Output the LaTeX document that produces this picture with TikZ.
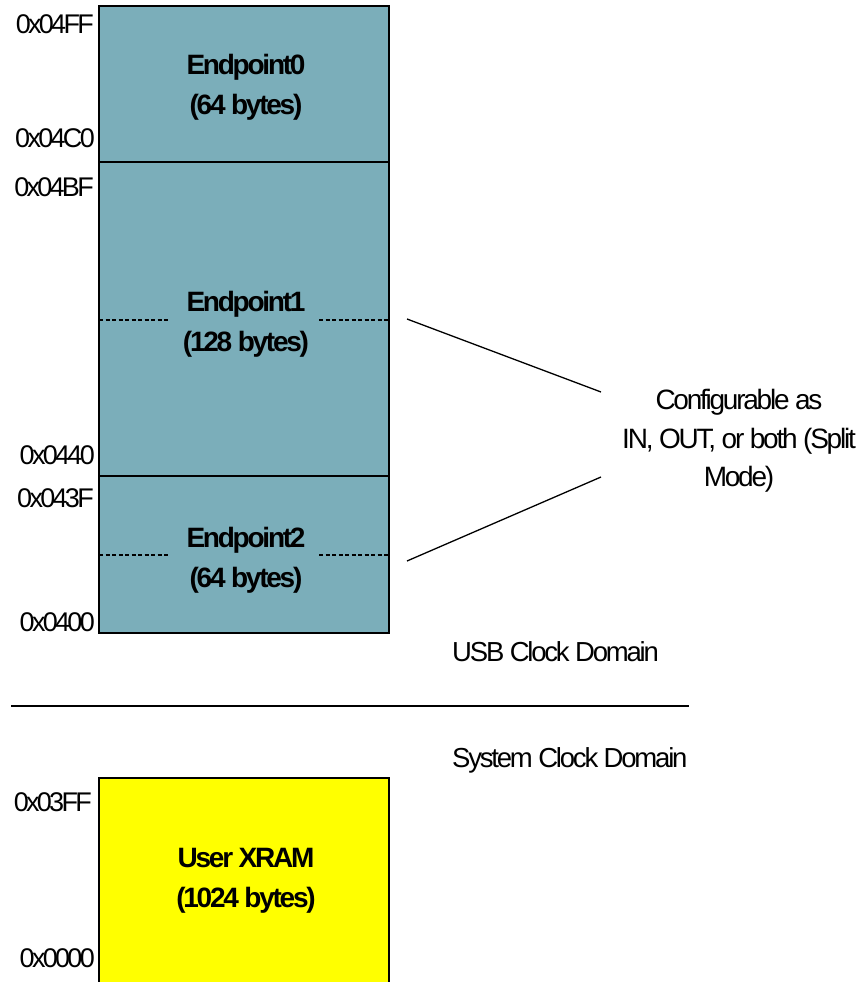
\documentclass[tikz,border=0pt]{standalone}
\usepackage{fontspec}
\setmainfont{Liberation Sans}[LetterSpace=-8]
\newfontfamily\addrfont{Liberation Sans}[LetterSpace=-10]
\definecolor{epblue}{RGB}{123,174,186}
\definecolor{xyellow}{RGB}{255,255,0}
\begin{document}
\begin{tikzpicture}[x=1pt,y=-1pt,
  membox/.style={draw=black, line width=1.2pt},
  addr/.style={anchor=east, inner sep=0pt, font=\addrfont\fontsize{27}{30}\selectfont},
  title/.style={align=center, inner sep=0pt, font=\fontsize{28}{40}\selectfont\bfseries},
  note/.style={inner sep=0pt, font=\fontsize{28}{38.5}\selectfont},
  clockdom/.style={inner sep=0pt, font=\fontsize{27.5}{33}\selectfont},
  split/.style={dashed, dash pattern=on 4pt off 2.5pt, line width=1.4pt},
  conn/.style={line width=1.3pt}]
\clip (0,0) rectangle (858,982);
\fill[white] (0,0) rectangle (858,982);
% memory blocks
\filldraw[membox, fill=epblue] (99,6) rectangle (389,162);
\filldraw[membox, fill=epblue] (99,162) rectangle (389,476);
\filldraw[membox, fill=epblue] (99,476) rectangle (389,633);
\fill[xyellow] (99,778) rectangle (389,990);
\draw[membox] (99,990) -- (99,778) -- (389,778) -- (389,990);
% titles
\node[title] (ep0) at (246,87) {Endpoint0\\(64 bytes)};
\node[title] (ep1) at (246,324) {Endpoint1\\(128 bytes)};
\node[title] (ep2) at (246,560) {Endpoint2\\(64 bytes)};
\node[title] (xram) at (246,881) {User XRAM\\(1024 bytes)};
% split dashes
\coordinate (d1a) at (99,320); \coordinate (d1b) at (169,320);
\coordinate (d1c) at (319,320); \coordinate (d1d) at (389,320);
\coordinate (d2a) at (99,555); \coordinate (d2b) at (169,555);
\coordinate (d2c) at (319,555); \coordinate (d2d) at (389,555);
\draw[split] (d1a) -- (d1b);
\draw[split] (d1c) -- (d1d);
\draw[split] (d2a) -- (d2b);
\draw[split] (d2c) -- (d2d);
% addresses
\node[addr] (a1) at (94,24) {0x04FF};
\node[addr] (a2) at (95,138) {0x04C0};
\node[addr] (a3) at (94,187) {0x04BF};
\node[addr] (a4) at (95,455) {0x0440};
\node[addr] (a5) at (94,498) {0x043F};
\node[addr] (a6) at (95,622) {0x0400};
\node[addr] (a7) at (92,802) {0x03FF};
\node[addr] (a8) at (95,958) {0x0000};
% note
\node[note, align=center] (cfg) at (739,441) {Configurable as\\IN, OUT, or both (Split\\Mode)};
\coordinate (c1s) at (407,319); \coordinate (c1e) at (601,392);
\coordinate (c2s) at (407,561); \coordinate (c2e) at (601,477);
\draw[conn] (c1s) -- (c1e);
\draw[conn] (c2s) -- (c2e);
% domains
\node[clockdom, anchor=west] (usb) at (452,652) {USB Clock Domain};
\coordinate (hl) at (11,706); \coordinate (hr) at (689,706);
\draw[line width=1.6pt] (hl) -- (hr);
\node[clockdom, anchor=west] (sys) at (452,760) {System Clock Domain};
\end{tikzpicture}
\end{document}
